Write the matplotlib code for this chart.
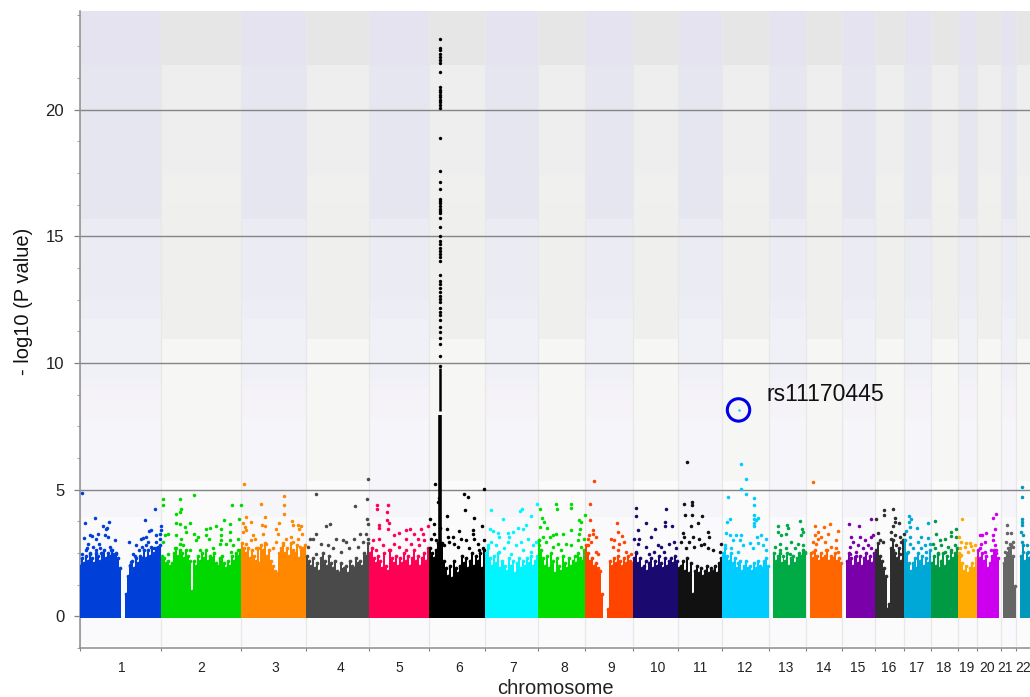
import numpy as np
import matplotlib
matplotlib.use('Agg')
import matplotlib.pyplot as plt

plt.rcParams['font.family'] = ['Liberation Sans', 'DejaVu Sans']

# chromosome lengths on the x axis (Mb) and colours
chrom_len = [244, 239, 197, 187, 180, 170, 157, 143, 142, 135, 132, 141, 111, 109, 98, 87, 81, 80, 57, 72, 46, 60]
chrom_col = ['#0040D8', '#00D800', '#FF8800', '#4A4A4A', '#FF0055', '#000000', '#00F5FF', '#00DD00', '#FF4400',
             '#1A0A70', '#111111', '#00CCFF', '#00AA44', '#FF6600', '#7A00AA', '#2E2E2E', '#00A8D8', '#009944',
             '#FFAA00', '#CC00EE', '#666666', '#0099BB']
chrom_names = [str(i) for i in range(1, 23)]
label_pos = [126, 366, 588, 783, 960, 1137, 1299, 1452, 1593, 1734, 1860, 1995, 2118, 2232, 2334, 2427, 2511, 2592,
             2661, 2721, 2775, 2829]

# top of the solid mass of SNPs, read left to right along each chromosome
chr1_body = [2.0, 2.3, 2.1, 2.4, 2.2, 2.5, 2.3, 2.1, 2.5, 2.4, 2.2, 2.5, 2.6, 2.3, 2.5, 2.4, 2.6, 2.4, 2.5, 2.3, 1.9,
             0, 0, 0.9, 1.6, 2.0, 2.2, 1.9, 2.3, 2.1, 2.4, 2.3, 2.6, 2.3, 2.6, 2.4, 2.7, 2.5, 2.7, 2.6, 2.8]
chr2_body = [2.4, 2.3, 2.1, 2.2, 2.0, 2.1, 2.5, 2.7, 2.4, 2.6, 2.5, 2.3, 2.6, 2.4, 2.2, 1.0, 2.2, 2.0, 2.4, 2.2, 2.5,
             2.3, 2.6, 2.2, 2.4, 2.3, 2.5, 2.1, 2.0, 2.3, 2.4, 2.1, 1.9, 2.2, 2.0, 2.4, 2.2, 2.5, 2.4, 2.6]
chr3_body = [2.9, 2.7, 2.5, 2.7, 2.3, 2.6, 2.4, 2.2, 2.7, 2.1, 2.8, 2.6, 2.9, 2.4, 2.6, 2.2, 2.0, 1.8, 1.7, 2.5, 2.7,
             2.9, 2.5, 2.7, 2.4, 2.9, 2.6, 2.5, 2.8, 2.3, 2.6, 2.7, 2.8]
chr4_body = [2.4, 2.2, 2.0, 2.3, 1.9, 2.1, 1.8, 2.3, 2.5, 2.2, 2.0, 2.4, 2.1, 1.9, 2.2, 1.8, 1.7, 2.1, 1.9, 2.0, 1.7,
             2.2, 2.0, 1.9, 2.3, 2.1, 2.2, 2.0, 2.5, 2.4, 2.9]
chr5_body = [2.5, 2.7, 2.3, 2.1, 2.4, 2.2, 1.9, 2.5, 2.0, 1.8, 2.6, 2.3, 2.1, 2.4, 2.0, 2.3, 2.1, 2.5, 2.2, 2.4, 2.0,
             2.3, 2.6, 2.2, 2.4, 2.0, 2.3, 2.5, 2.2, 2.7]
chr6_body = [2.7, 2.5, 2.3, 2.6, 2.9, 3.5, 2.9, 2.2, 1.9, 1.6, 2.0, 1.5, 2.2, 1.9, 1.7, 2.0, 2.4, 2.1, 2.3, 1.9, 2.2,
             2.5, 2.0, 2.4, 2.2, 2.5, 1.9, 2.6]
chr7_body = [2.5, 2.8, 2.3, 2.0, 2.4, 2.1, 2.5, 1.9, 2.2, 2.0, 1.8, 2.3, 2.0, 2.2, 1.7, 2.1, 2.3, 1.9, 2.2, 2.0, 2.3,
             2.1, 2.4, 2.0, 2.2, 2.4]
chr8_body = [3.0, 2.6, 2.3, 2.0, 2.4, 1.9, 2.5, 2.2, 1.7, 2.3, 2.0, 1.8, 2.4, 2.1, 1.9, 2.3, 2.0, 2.2, 2.4, 2.1, 2.5,
             2.3, 2.2, 2.6]
chr9_body = [2.8, 2.5, 2.2, 2.3, 2.0, 2.1, 1.9, 1.8, 0.9, 0, 0, 0.3, 2.2, 2.0, 2.3, 2.1, 2.4, 2.2, 2.0, 2.3, 2.1, 2.4,
             2.2, 2.1]
chr10_body = [2.3, 2.5, 2.1, 2.3, 1.9, 2.0, 2.2, 1.8, 2.1, 2.3, 1.9, 2.2, 2.0, 2.4, 2.1, 1.9, 2.3, 2.0, 2.2, 2.3, 2.1,
              2.4, 2.2]
chr11_body = [1.9, 2.0, 2.2, 1.8, 2.3, 1.7, 2.1, 0.9, 1.8, 2.0, 1.7, 1.9, 1.6, 1.8, 2.0, 1.7, 1.9, 1.8, 2.0, 1.7, 2.1,
              2.3]
chr12_body = [2.5, 2.7, 2.4, 2.2, 2.5, 2.1, 2.3, 1.9, 2.1, 2.2, 1.8, 2.0, 2.2, 1.9, 2.0, 1.8, 2.1, 1.9, 2.2, 2.0, 1.9,
              2.2, 2.3, 2.0]
chr13_body = [0, 0, 2.5, 2.2, 2.4, 2.5, 2.1, 2.4, 2.2, 2.5, 2.0, 2.3, 2.4, 2.1, 2.3, 2.5, 2.4, 2.6, 2.5]
chr14_body = [0, 0, 2.5, 2.3, 2.6, 2.4, 2.2, 2.5, 2.3, 2.4, 2.6, 2.2, 2.4, 2.3, 2.5, 2.2, 2.3, 2.1]
chr15_body = [0, 0, 2.2, 2.5, 2.3, 2.0, 2.4, 2.1, 2.4, 2.0, 2.3, 2.5, 2.2, 2.4, 2.1, 2.5]
chr16_body = [2.6, 2.9, 2.4, 2.2, 1.9, 1.6, 0.3, 0.5, 2.7, 3.0, 2.5, 2.3, 2.7, 2.2, 3.0]
chr17_body = [3.0, 2.5, 2.1, 1.8, 2.1, 2.3, 1.9, 2.5, 2.2, 2.4, 2.0, 2.3, 2.1, 2.6]
chr18_body = [2.1, 2.4, 2.0, 2.5, 1.9, 2.2, 2.5, 2.0, 2.4, 2.2, 2.6, 2.3, 2.5, 2.7]
chr19_body = [2.5, 2.4, 2.1, 1.8, 2.0, 1.7, 1.9, 2.1, 1.9, 2.3]
chr20_body = [2.6, 2.3, 2.5, 2.2, 2.4, 1.9, 2.1, 2.4, 2.6, 2.5, 2.3, 0]
chr21_body = [0, 2.1, 2.3, 2.5, 2.7, 2.8, 2.4, 1.2]
chr22_body = [0, 0, 2.4, 2.8, 2.2, 2.5, 2.3, 2.4, 2.1, 2.3]

# single SNPs above the mass: position inside the chromosome (Mb) and -log10 P
chr1_x = [6, 16, 45, 70, 87, 78, 83, 55, 32, 38, 12, 105, 75, 85, 50, 25, 57, 40, 7, 18, 30, 60, 90, 100, 110, 147, 169,
          195, 225, 208, 215, 190, 200, 185, 230, 243, 243, 240, 205, 200, 215, 230, 240, 160, 165, 155, 150, 22, 48,
          65, 95, 178, 188, 222, 235]
chr1_y = [4.87, 3.70, 3.88, 3.57, 3.73, 3.44, 3.5, 3.27, 3.2, 3.17, 3.1, 3.03, 3.2, 3.13, 3.07, 2.87, 2.87, 2.74, 2.48,
          2.6, 2.48, 2.68, 2.74, 2.48, 2.48, 2.93, 2.8, 3.79, 4.23, 3.37, 3.4, 3.1, 3.13, 3.07, 3.2, 3.57, 3.4, 3.27,
          2.94, 2.81, 2.74, 2.94, 3.07, 2.48, 2.4, 2.15, 2.02, 2.7, 2.6, 2.5, 2.6, 2.6, 2.75, 2.7, 2.75]
chr2_x = [6, 7, 56, 98, 213, 239, 59, 56, 46, 44, 56, 71, 88, 190, 206, 234, 166, 146, 134, 181, 206, 76, 99, 111, 11,
          21, 46, 61, 136, 144, 181, 181, 206, 176, 196, 216, 231, 6, 56, 106, 21, 41, 66, 86, 116, 156, 211, 231]
chr2_y = [4.62, 4.38, 4.62, 4.78, 4.41, 4.38, 4.23, 4.12, 4.05, 3.7, 3.66, 3.53, 3.67, 3.82, 3.65, 3.86, 3.57, 3.49,
          3.44, 3.46, 3.33, 3.33, 3.24, 3.14, 3.2, 3.24, 3.2, 3.07, 3.2, 3.07, 3.2, 3.0, 3.0, 2.87, 2.87, 2.83, 3.07,
          2.94, 2.87, 3.0, 2.48, 2.68, 2.81, 2.6, 2.6, 2.68, 2.55, 2.6]
chr3_x = [10, 60, 129, 130, 130, 114, 72, 17, 32, 7, 12, 17, 7, 63, 72, 67, 37, 42, 32, 107, 112, 155, 157, 172, 182,
          175, 185, 152, 172, 137, 107, 17, 77, 127, 177, 47, 97, 157]
chr3_y = [5.24, 4.42, 4.74, 4.38, 4.05, 3.7, 3.91, 3.92, 3.73, 3.7, 3.53, 3.4, 3.33, 3.6, 3.57, 3.27, 3.2, 3.07, 3.0,
          3.46, 3.27, 3.75, 3.62, 3.62, 3.57, 3.46, 3.27, 3.14, 3.07, 3.07, 2.94, 2.87, 2.87, 2.81, 2.74, 2.68, 2.68,
          2.94]
chr4_x = [30, 70, 60, 30, 10, 20, 45, 90, 110, 65, 80, 5, 30, 184, 182, 147, 182, 184, 179, 161, 144, 184, 119, 169,
          129, 154, 104]
chr4_y = [4.82, 3.66, 3.56, 3.27, 3.07, 3.07, 2.87, 3.07, 3.0, 2.81, 2.68, 2.74, 2.48, 5.43, 4.65, 4.36, 3.86, 3.66,
          3.27, 3.27, 3.07, 3.07, 2.94, 2.94, 2.68, 2.74, 2.55]
chr5_x = [25, 25, 58, 55, 55, 60, 32, 30, 57, 77, 90, 112, 125, 157, 179, 137, 162, 112, 147, 12, 32, 77, 127, 167, 42,
          92, 152, 22, 62, 112]
chr5_y = [4.38, 4.25, 4.38, 4.12, 3.79, 3.7, 3.62, 3.49, 3.46, 3.2, 3.29, 3.4, 3.44, 3.46, 3.56, 3.27, 3.27, 3.07, 3.07,
          3.0, 3.07, 2.87, 2.87, 3.0, 2.81, 2.74, 2.81, 2.6, 2.6, 2.6]
chr6_x = [20, 30, 27, 4, 17, 15, 7, 22, 105, 119, 165, 108, 135, 55, 55, 159, 90, 132, 72, 132, 97, 137, 62, 77, 112,
          147, 167, 57, 87, 122, 152, 162, 47]
chr6_y = [5.24, 4.67, 4.5, 3.86, 3.66, 3.27, 3.07, 3.0, 4.84, 4.7, 5.04, 4.19, 3.88, 3.96, 3.43, 3.56, 3.36, 3.4, 3.14,
          3.27, 3.07, 3.07, 2.94, 2.87, 3.0, 2.87, 3.0, 3.14, 2.74, 2.68, 2.6, 2.68, 2.81]
chr7_x = [17, 53, 109, 104, 137, 154, 14, 22, 39, 40, 97, 112, 122, 82, 67, 72, 127, 107, 17, 32, 57, 92, 142, 67, 7,
          152, 112, 137, 42, 77]
chr7_y = [4.19, 3.85, 4.23, 4.17, 3.95, 4.45, 3.46, 3.36, 3.31, 3.14, 3.49, 3.44, 3.62, 3.33, 3.29, 3.14, 3.07, 2.94,
          2.94, 2.81, 2.68, 2.81, 2.81, 2.94, 2.68, 2.94, 2.6, 2.55, 2.55, 2.48]
chr8_x = [6, 56, 58, 101, 101, 143, 13, 20, 8, 27, 125, 130, 127, 100, 125, 45, 55, 77, 15, 37, 5, 25, 60, 85, 120, 45,
          100, 140, 130, 5, 70]
chr8_y = [4.23, 4.42, 4.23, 4.42, 4.28, 4.02, 3.88, 3.73, 3.53, 3.49, 3.79, 3.73, 3.46, 3.4, 3.27, 3.2, 3.27, 3.27,
          3.14, 3.14, 3.0, 2.94, 2.87, 2.87, 3.0, 2.74, 2.81, 3.07, 2.74, 2.81, 2.6]
chr9_x = [27, 13, 13, 24, 12, 22, 7, 32, 17, 7, 32, 37, 95, 97, 110, 77, 87, 117, 102, 82, 122, 97, 137]
chr9_y = [5.33, 4.45, 3.82, 3.4, 3.2, 3.27, 3.07, 3.14, 2.94, 2.81, 2.55, 2.48, 3.69, 3.33, 3.18, 3.07, 3.0, 2.94, 2.87,
          2.74, 2.55, 2.6, 2.48]
chr10_x = [10, 10, 40, 100, 98, 118, 68, 98, 17, 5, 20, 55, 15, 75, 110, 125, 40, 85, 95, 65, 130, 10, 50]
chr10_y = [4.28, 3.96, 3.7, 4.23, 3.73, 3.57, 3.46, 3.57, 3.4, 3.07, 3.07, 3.14, 2.87, 2.83, 2.87, 2.94, 2.74, 2.74,
           2.55, 2.55, 2.68, 2.55, 2.48]
chr11_x = [28, 20, 42, 42, 22, 42, 72, 60, 40, 90, 15, 20, 45, 65, 93, 35, 80, 10, 50, 70, 130, 25, 105, 125, 90]
chr11_y = [6.09, 4.42, 4.51, 4.38, 3.99, 3.99, 3.95, 3.69, 3.57, 3.33, 3.29, 3.14, 3.14, 3.07, 3.14, 2.94, 2.87, 2.94,
           2.74, 2.81, 2.87, 2.68, 2.6, 2.55, 2.68]
chr12_x = [56, 73, 56, 73, 18, 95, 95, 95, 108, 95, 95, 101, 23, 16, 95, 13, 23, 43, 58, 118, 105, 131, 33, 53, 8, 85,
           108, 63, 123, 28, 93, 133, 48]
chr12_y = [6.01, 5.43, 5.01, 4.82, 4.7, 4.67, 4.38, 3.99, 3.9, 3.86, 3.7, 3.79, 3.86, 3.73, 3.57, 3.29, 3.2, 3.2, 3.2,
           3.23, 3.14, 3.07, 3.0, 3.0, 2.81, 2.9, 2.91, 2.81, 2.81, 2.68, 2.68, 2.6, 2.55]
chr13_x = [27, 55, 92, 57, 27, 37, 52, 100, 102, 97, 32, 67, 87, 17, 52, 77, 102, 32, 62, 107]
chr13_y = [3.57, 3.62, 3.75, 3.49, 3.33, 3.2, 3.27, 3.46, 3.33, 3.2, 2.87, 2.94, 2.87, 2.74, 2.68, 2.68, 2.81, 2.6, 2.48,
           2.55]
chr14_x = [21, 28, 73, 53, 96, 36, 66, 26, 46, 21, 31, 56, 91, 76, 36, 91, 61, 21, 96]
chr14_y = [5.3, 3.56, 3.65, 3.53, 3.36, 3.33, 3.27, 3.2, 3.14, 2.94, 2.87, 2.94, 3.0, 2.74, 3.07, 2.68, 2.6, 2.55, 2.55]
chr15_x = [20, 49, 87, 25, 52, 87, 32, 67, 92, 22, 47, 77, 62, 87, 22, 42]
chr15_y = [3.65, 3.56, 3.85, 3.14, 3.12, 3.14, 2.94, 3.0, 3.23, 2.74, 2.81, 2.81, 2.68, 2.68, 2.48, 2.55]
chr16_x = [4, 26, 26, 54, 61, 71, 59, 54, 9, 49, 59, 86, 74, 24, 14, 49, 79, 64, 54, 74]
chr16_y = [3.86, 4.21, 4.02, 4.25, 3.88, 3.7, 3.73, 3.57, 3.29, 3.33, 3.2, 3.27, 3.14, 2.94, 3.0, 3.07, 2.94, 2.81, 2.6,
           2.48]
chr17_x = [15, 20, 15, 7, 17, 39, 72, 52, 72, 17, 17, 42, 62, 77, 27, 52, 12, 67]
chr17_y = [3.96, 3.86, 3.73, 3.36, 3.53, 3.49, 3.7, 3.14, 3.1, 3.14, 2.87, 2.94, 2.81, 2.87, 2.68, 2.68, 2.55, 2.55]
chr18_x = [13, 74, 16, 61, 61, 41, 26, 6, 76, 11, 31, 51, 71, 21, 41, 61]
chr18_y = [3.75, 3.44, 3.24, 3.33, 3.16, 3.04, 3.0, 2.87, 3.14, 2.68, 2.81, 2.74, 2.83, 2.48, 2.55, 2.55]
chr19_x = [13, 3, 11, 26, 36, 6, 21, 51, 46, 31, 11, 41]
chr19_y = [3.86, 3.14, 2.94, 2.91, 2.91, 2.68, 2.74, 2.81, 2.6, 2.55, 2.41, 2.78]
chr20_x = [57, 49, 54, 27, 9, 17, 24, 14, 49, 49, 54, 9, 44, 24, 59]
chr20_y = [4.05, 3.9, 3.46, 3.29, 3.2, 3.23, 2.94, 2.87, 3.2, 3.0, 2.81, 2.68, 2.6, 2.55, 2.6]
chr21_x = [20, 18, 30, 16, 38, 28, 23, 13, 36]
chr21_y = [3.62, 3.29, 3.29, 2.94, 2.94, 2.87, 2.68, 2.55, 2.74]
chr22_x = [18, 18, 18, 18, 18, 16, 22, 17, 32, 37, 22]
chr22_y = [5.12, 4.7, 3.86, 3.73, 3.62, 3.33, 3.2, 2.94, 2.81, 2.55, 2.55]

all_body = [chr1_body, chr2_body, chr3_body, chr4_body, chr5_body, chr6_body, chr7_body, chr8_body, chr9_body,
            chr10_body, chr11_body, chr12_body, chr13_body, chr14_body, chr15_body, chr16_body, chr17_body, chr18_body,
            chr19_body, chr20_body, chr21_body, chr22_body]
all_x = [chr1_x, chr2_x, chr3_x, chr4_x, chr5_x, chr6_x, chr7_x, chr8_x, chr9_x, chr10_x, chr11_x, chr12_x, chr13_x,
         chr14_x, chr15_x, chr16_x, chr17_x, chr18_x, chr19_x, chr20_x, chr21_x, chr22_x]
all_y = [chr1_y, chr2_y, chr3_y, chr4_y, chr5_y, chr6_y, chr7_y, chr8_y, chr9_y, chr10_y, chr11_y, chr12_y, chr13_y,
         chr14_y, chr15_y, chr16_y, chr17_y, chr18_y, chr19_y, chr20_y, chr21_y, chr22_y]

# MHC peak on chromosome 6
peak_pos = 35
peak_y = [22.78, 22.43, 22.36, 22.2, 22.1, 21.95, 21.85, 21.5, 20.9, 20.8, 20.7, 20.6, 20.5, 20.4, 20.3, 20.18, 20.08,
          18.9, 17.6, 17.14, 16.88, 16.49, 16.4, 16.3, 16.2, 16.1, 16.0, 15.93, 15.74, 15.37, 15.01, 14.82, 14.69,
          14.56, 14.43, 14.3, 14.17, 14.01, 13.48, 13.24, 13.11, 12.98, 12.79, 12.66, 12.53, 12.4, 12.19, 12.03, 11.88,
          11.69, 11.43, 11.23, 10.97, 10.77, 10.26, 9.89]
peak_solid_low = [2.5, 8.1]
peak_solid_high = [7.95, 9.8]

hit_pos = 50
hit_y = 8.15
hit_name = 'rs11170445'

# pale shaded bands behind the odd and even chromosomes
band_edges_odd = [23.9, 21.77, 15.67, 12.52, 11.73, 9.37, 8.98, 7.8, 5.35, 3.94, -1.18]
band_cols_odd = ['#E4E3EF', '#E6E6F0', '#EBEBF3', '#EDEDF5', '#F0F0F7', '#F2F1F7', '#F6F3F8', '#F5F5FA', '#F6F6FA',
                 '#FAFAFD']
band_edges_even = [23.9, 21.77, 17.44, 16.34, 10.94, 5.35, -1.18]
band_cols_even = ['#E6E6E6', '#EEEEEE', '#F0F0EF', '#EFEFEE', '#F6F6F5', '#FBFBFB']

fig = plt.figure(figsize=(10.30, 6.97), dpi=100)
ax = fig.add_axes([79.5 / 1030, (697 - 648) / 697, (1030 - 79.5) / 1030, (648 - 11) / 697])

starts = np.concatenate([[0], np.cumsum(chrom_len)[:-1]])

# background
for i, (st, ln) in enumerate(zip(starts, chrom_len)):
    edges = band_edges_odd if i % 2 == 0 else band_edges_even
    cols = band_cols_odd if i % 2 == 0 else band_cols_even
    for top, bot, c in zip(edges[:-1], edges[1:], cols):
        ax.bar(st, top - bot, bottom=bot, width=ln, align='edge', color=c, linewidth=0, zorder=0)
ax.vlines(starts, -1.18, 23.9, color='#E8E8E8', lw=0.9, zorder=1)

ax.hlines([5, 10, 15, 20], 0, 2850, color='#858585', lw=1.0, zorder=2)

# the SNPs themselves
for st, ln, c, body, xs, ys in zip(starts, chrom_len, chrom_col, all_body, all_x, all_y):
    body = np.array(body)
    w = ln / len(body)
    left = st + np.arange(len(body)) * w
    keep = body > 0
    ax.bar(left[keep], body[keep] + 0.05, bottom=-0.05, width=w, align='edge', color=c, linewidth=0, zorder=3)
    # round dots on the column tops so the edge of the mass is not a staircase
    ax.scatter(left[keep] + w / 2, body[keep], s=7, color=c, linewidths=0, zorder=3)
    ax.scatter(st + np.array(xs), ys, s=6.5, color=c, linewidths=0, zorder=4)

chr6_start = starts[5]
ax.vlines([chr6_start + peak_pos] * 2, peak_solid_low, peak_solid_high, color='black', lw=[2.6, 1.8], zorder=4)
ax.scatter([chr6_start + peak_pos] * len(peak_y), peak_y, s=6, color='black', linewidths=0, zorder=4)

# the highlighted SNP
chr12_start = starts[11]
ax.scatter([chr12_start + hit_pos], [hit_y], s=3, color=chrom_col[11], linewidths=0, zorder=5)
ax.scatter([chr12_start + hit_pos], [hit_y], s=260, facecolors='none', edgecolors='#0000E6', linewidths=2.2, zorder=5)
ax.annotate(hit_name, (chr12_start + hit_pos, hit_y), xytext=(20, 3), textcoords='offset points', fontsize=16.6,
            color='#111111', va='bottom', ha='left', zorder=6)

ax.set_xlim(0, 2850)
ax.set_ylim(-1.18, 23.9)

ax.set_yticks([0, 5, 10, 15, 20])
ax.set_yticks(np.arange(-1.25, 23.8, 1.25), minor=True)
ax.tick_params(axis='y', which='major', length=4, width=0.9, color='#808080', labelsize=12, pad=7, labelcolor='#222222')
ax.tick_params(axis='y', which='minor', length=2, width=0.7, color='#A0A0A0')

ax.set_xticks(starts, [''] * len(starts))
ax.set_xticks(label_pos, chrom_names, minor=True)
ax.tick_params(axis='x', which='major', length=2, width=0.8, color='#808080')
ax.tick_params(axis='x', which='minor', length=0, labelsize=10, pad=9, labelcolor='#222222')

for s in ['top', 'right']:
    ax.spines[s].set_visible(False)
for s in ['left', 'bottom']:
    ax.spines[s].set_color('#8C8C8C')
    ax.spines[s].set_linewidth(1.1)

fig.text(555 / 1030, 1 - 689 / 697, 'chromosome', fontsize=14.5, ha='center', va='center', color='#222222')
fig.text(24 / 1030, 1 - 301 / 697, '- log10 (P value)', fontsize=14.5, rotation=90, ha='center', va='center',
         color='#111111')

fig.savefig('out.png', dpi=100)
